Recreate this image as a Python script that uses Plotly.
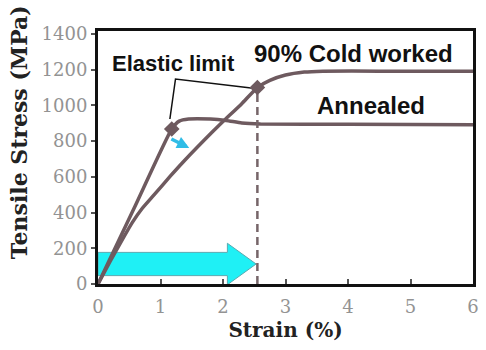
import plotly.graph_objects as go

# Stress-strain curves (strain in %, stress in MPa)
annealed_strain = [0.0, 0.60, 1.18, 1.30, 1.45, 1.80, 2.05, 2.30, 2.60, 4.0, 6.0]
annealed_stress = [0, 441, 868, 912, 924, 924, 916, 902, 896, 894, 892]

cold_strain = [0.0, 0.20, 0.40, 0.55, 0.70, 0.90, 1.16, 1.37, 1.84, 2.00, 2.30, 2.55,
               2.75, 3.00, 3.30, 3.60, 4.5, 6.0]
cold_stress = [0, 130, 255, 345, 420, 500, 605, 686, 855, 910, 1010, 1100,
               1140, 1170, 1187, 1192, 1192, 1192]

# Elastic limits of the two materials
annealed_limit = (1.18, 868)
cold_limit = (2.55, 1100)

x_ticks = [0, 1, 2, 3, 4, 5, 6]
y_ticks = [0, 200, 400, 600, 800, 1000, 1200, 1400]

line_col = "#6e5a5f"
serif = "DejaVu Serif"
sans = "Liberation Sans, Arial"

W, H = 486, 350
ml, mr, mt, mb = 98, 7, 31, 66
y_top = 1400 * (H - mt - mb) / 250.0


def px_x(p):
    return (p - ml) / (W - ml - mr)


def px_y(p):
    return (H - mb - p) / (H - mt - mb)


fig = go.Figure()

# Curves
fig.add_trace(go.Scatter(x=cold_strain, y=cold_stress, mode="lines",
                         line=dict(color=line_col, width=3.5, shape="spline", smoothing=0.5),
                         hoverinfo="skip", showlegend=False))
fig.add_trace(go.Scatter(x=annealed_strain, y=annealed_stress, mode="lines",
                         line=dict(color=line_col, width=3.5, shape="spline", smoothing=0.5),
                         hoverinfo="skip", showlegend=False))

# Dashed drop line from the cold-worked elastic limit
fig.add_trace(go.Scatter(x=[cold_limit[0], cold_limit[0]], y=[0, cold_limit[1]], mode="lines",
                         line=dict(color="#766569", width=2.5, dash="8px,5px"),
                         hoverinfo="skip", showlegend=False))

# Leader lines for the "Elastic limit" label
apex = (annealed_limit[0] + 0.06, 1148)
fig.add_trace(go.Scatter(x=[annealed_limit[0] - 0.03, apex[0], cold_limit[0] - 0.1],
                         y=[annealed_limit[1] + 56, apex[1], cold_limit[1] - 2],
                         mode="lines", line=dict(color="#111111", width=1.5),
                         hoverinfo="skip", showlegend=False))

# Elastic limit markers
fig.add_trace(go.Scatter(x=[annealed_limit[0], cold_limit[0]], y=[annealed_limit[1], cold_limit[1]],
                         mode="markers", marker=dict(symbol="diamond", size=12, color=line_col),
                         hoverinfo="skip", showlegend=False))

# Big cyan arrow along the strain axis up to the cold-worked limit
yc, body_h, head_h = 112, 65, 116
head_x = cold_limit[0] - 0.48
tip_x = cold_limit[0] - 0.02
arrow_path = (f"M 0,{yc - body_h} L {head_x},{yc - body_h} L {head_x},{yc - head_h} "
              f"L {tip_x},{yc} L {head_x},{yc + head_h} L {head_x},{yc + body_h} "
              f"L 0,{yc + body_h} Z")
fig.add_shape(type="path", path=arrow_path, xref="x", yref="y", layer="below",
              fillcolor="#1ff0f5", line=dict(color="#5aa9b0", width=1))

# Small cyan arrow between the curves
fig.add_annotation(x=annealed_limit[0] + 0.28, y=annealed_limit[1] - 106,
                   ax=annealed_limit[0] - 0.03, ay=annealed_limit[1] - 52,
                   xref="x", yref="y", axref="x", ayref="y", text="",
                   showarrow=True, arrowhead=2, arrowsize=0.7, arrowwidth=3.5, arrowcolor="#30bce6")

# Labels
fig.add_annotation(x=px_x(175), y=px_y(63), xref="paper", yref="paper",
                   text="<b>Elastic limit</b>", showarrow=False,
                   font=dict(family=sans, size=22, color="#111111"), xanchor="center", yanchor="middle")
fig.add_annotation(x=px_x(358), y=px_y(53), xref="paper", yref="paper",
                   text="<b>90% Cold worked</b>", showarrow=False,
                   font=dict(family=sans, size=24, color="#111111"), xanchor="center", yanchor="middle")
fig.add_annotation(x=px_x(375), y=px_y(105), xref="paper", yref="paper",
                   text="<b>Annealed</b>", showarrow=False,
                   font=dict(family=sans, size=24, color="#111111"), xanchor="center", yanchor="middle")

# Y-axis title
fig.add_annotation(x=px_x(18), y=px_y(132), xref="paper", yref="paper",
                   text="<b>Tensile Stress (MPa)</b>", showarrow=False,
                   textangle=-90, font=dict(family=serif, size=22, color="#222222"),
                   xanchor="center", yanchor="middle")

fig.update_layout(
    width=W, height=H,
    margin=dict(l=ml, r=mr, t=mt, b=mb, pad=0),
    paper_bgcolor="white", plot_bgcolor="white",
    xaxis=dict(range=[0, 6], tickvals=x_ticks, ticktext=[str(v) for v in x_ticks],
               ticks="inside", ticklen=5, tickwidth=1.5, tickcolor="#555555",
               showline=True, linecolor="#111111", linewidth=3, mirror=True,
               showgrid=False, zeroline=False, ticklabelstandoff=4,
               tickfont=dict(family=serif, size=18, color="#939393"),
               title=dict(text="<b>Strain (%)</b>", font=dict(family=serif, size=20, color="#222222"),
                          standoff=8)),
    yaxis=dict(range=[0, y_top], tickvals=y_ticks, ticktext=[str(v) for v in y_ticks],
               ticks="outside", ticklen=4, tickwidth=1.5, tickcolor="#555555",
               showline=True, linecolor="#111111", linewidth=3, mirror=True,
               showgrid=False, zeroline=False,
               tickfont=dict(family=serif, size=18, color="#939393")),
)

fig.write_html("out.html")
